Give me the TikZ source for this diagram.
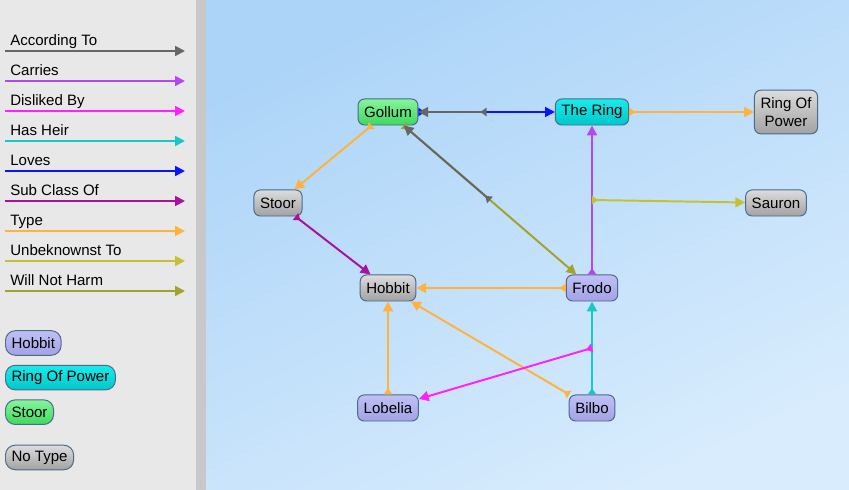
\documentclass[tikz,border=0pt]{standalone}
\usepackage{fontspec}
\setmainfont{Liberation Sans}
\usepackage{tikz}
\usetikzlibrary{shapes,arrows,arrows.meta}
\usetikzlibrary{positioning}
\definecolor{panelgray}{HTML}{E8E8E8}
\definecolor{stripgray}{HTML}{C8C8C8}
\definecolor{canvasA}{HTML}{ACD4F8}
\definecolor{canvasB}{HTML}{D8ECFD}
\definecolor{nodeborder}{HTML}{4C6A8A}
\definecolor{hobbitA}{HTML}{C0C0F6}
\definecolor{hobbitB}{HTML}{A2A2E6}
\definecolor{ringA}{HTML}{18ECEC}
\definecolor{ringB}{HTML}{00C6CA}
\definecolor{stoorA}{HTML}{86F49C}
\definecolor{stoorB}{HTML}{3ED85E}
\definecolor{noneA}{HTML}{DCDCDC}
\definecolor{noneB}{HTML}{A2A2A2}
\definecolor{cAccording}{HTML}{666666}
\definecolor{cCarries}{HTML}{B048F4}
\definecolor{cDisliked}{HTML}{FF22FF}
\definecolor{cHeir}{HTML}{16C8C8}
\definecolor{cLoves}{HTML}{0A14FF}
\definecolor{cSubclass}{HTML}{A8129E}
\definecolor{cType}{HTML}{FFB23C}
\definecolor{cUnbek}{HTML}{C4C232}
\definecolor{cHarm}{HTML}{A2A22E}
\tikzstyle{concept} = [rectangle, draw=nodeborder, line width=0.7pt, rounded corners=4.5pt,
    minimum height=18.5pt, inner xsep=4.3pt, inner ysep=2pt, text=black,
    font=\fontsize{10.7}{12.5}\selectfont]
\tikzstyle{hobbittype} = [concept, top color=hobbitA, bottom color=hobbitB]
\tikzstyle{ringtype} = [concept, top color=ringA, bottom color=ringB]
\tikzstyle{stoortype} = [concept, top color=stoorA, bottom color=stoorB]
\tikzstyle{notype} = [concept, top color=noneA, bottom color=noneB]
\tikzstyle{keybox} = [anchor=west, rounded corners=7pt, minimum height=17.5pt]
\tikzstyle{keytext} = [anchor=base west, inner sep=0pt, font=\fontsize{10.7}{12.5}\selectfont]
\tikzstyle{rel} = [line width=1.4pt, {Triangle[reversed,length=4.5pt,width=6pt]}-{Triangle[length=7pt,width=7pt]}]
\tikzstyle{keyline} = [line width=1.4pt, -{Triangle[length=7pt,width=7pt]}]

\begin{document}
\begin{tikzpicture}[x=0.025cm,y=-0.025cm]
    % Panels
    \useasboundingbox (0,0) rectangle (849,490);
    \fill[panelgray] (0,0) rectangle (196,490);
    \fill[stripgray] (196,0) rectangle (206,490);
    \shade[top color=canvasA, bottom color=canvasB, shading angle=25] (206,0) rectangle (849,490);
    % Key
    \foreach \lab/\col [count=\i from 0] in {According To/cAccording, Carries/cCarries,
        Disliked By/cDisliked, Has Heir/cHeir, Loves/cLoves, Sub Class Of/cSubclass,
        Type/cType, Unbeknownst To/cUnbek, Will Not Harm/cHarm} {
        \node[keytext] (lab\i) at (10,{46+30*\i}) {\lab};
        \coordinate (ks\i) at (5,{51+30*\i});
        \coordinate (ke\i) at (185,{51+30*\i});
        \draw[keyline,\col] (ks\i) -- (ke\i);
    }
    \node[hobbittype, keybox] (keyhobbit) at (5,343) {Hobbit};
    \node[ringtype, keybox, below right=6.4pt and 0pt of keyhobbit.south west] (keyring) {Ring Of Power};
    \node[stoortype, keybox, below right=6.4pt and 0pt of keyring.south west] (keystoor) {Stoor};
    \node[notype, keybox, below right=14pt and 0pt of keystoor.south west] (keynone) {No Type};
    % Place nodes
    \node[stoortype] (gollum) at (388,112) {Gollum};
    \node[ringtype] (thering) at (592,112) {The Ring};
    \node[notype, align=center, minimum height=31pt] (ringofpower) at (786,112) {Ring Of\\Power};
    \node[notype] (stoor) at (278,203) {Stoor};
    \node[notype] (sauron) at (776,203) {Sauron};
    \node[notype] (hobbit) at (388,288) {Hobbit};
    \node[hobbittype] (frodo) at (592,288) {Frodo};
    \node[hobbittype] (lobelia) at (388,408) {Lobelia};
    \node[hobbittype] (bilbo) at (592,408) {Bilbo};
    % Draw edges
    \draw[rel,cType] (gollum) -- (stoor);
    \draw[rel,cLoves] (gollum) -- coordinate (lovesmid) (thering);
    \draw[rel,cType] (thering) -- (ringofpower);
    \draw[rel,cHarm] (gollum) -- coordinate (harmmid) (frodo);
    \draw[rel,cCarries] (frodo) -- coordinate (carriesmid) (thering);
    \draw[rel,cSubclass] (stoor) -- (hobbit);
    \draw[rel,cType] (frodo) -- (hobbit);
    \draw[rel,cType] (lobelia) -- (hobbit);
    \draw[rel,cType] (bilbo) -- (hobbit);
    \draw[rel,cHeir] (bilbo) -- coordinate (heirmid) (frodo);
    % Statements about statements
    \draw[rel,cAccording] (lovesmid) -- (gollum);
    \draw[rel,cAccording] (harmmid) -- (gollum);
    \draw[rel,cUnbek] (carriesmid) -- (sauron);
    \draw[rel,cDisliked] (heirmid) -- (lobelia);
\end{tikzpicture}
\end{document}
